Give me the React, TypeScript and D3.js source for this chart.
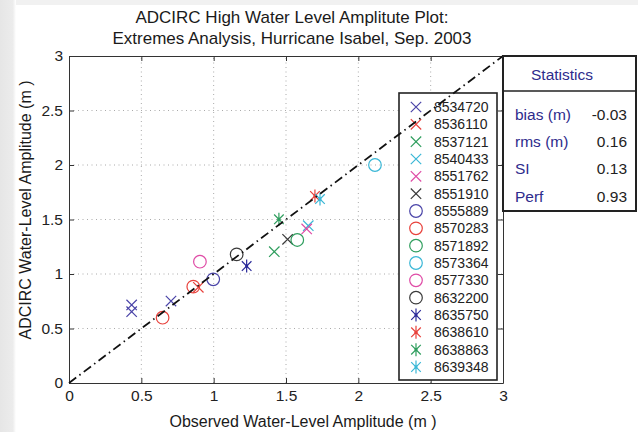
import { useRef, useEffect } from 'react'
import * as d3 from 'd3'

// station list shown in the legend
const stations = [
  '8534720', '8536110', '8537121', '8540433', '8551762', '8551910',
  '8555889', '8570283', '8571892', '8573364', '8577330', '8632200',
  '8635750', '8638610', '8638863', '8639348',
]
const stationMarkers = [
  'x', 'x', 'x', 'x', 'x', 'x',
  'o', 'o', 'o', 'o', 'o', 'o',
  '*', '*', '*', '*',
]
const stationColors = [
  '#4a44a8', '#e8413b', '#2f9e5e', '#3ab7d6', '#df4ba6', '#3a3a3a',
  '#4a44a8', '#e8413b', '#2f9e5e', '#3ab7d6', '#df4ba6', '#3a3a3a',
  '#2b2a9a', '#e8413b', '#2f9e5e', '#3ab7d6',
]

// observed vs modelled high water amplitude (m)
const observed = [0.433, 0.433, 0.705, 0.894, 1.419, 1.654, 1.643, 1.511, 0.997, 0.647, 0.859, 1.578, 2.115, 0.905, 1.159, 1.228, 1.70, 1.451, 1.735]
const modelled = [0.716, 0.654, 0.752, 0.878, 1.205, 1.443, 1.413, 1.318, 0.951, 0.599, 0.884, 1.312, 2.0, 1.113, 1.18, 1.073, 1.716, 1.502, 1.688]
const pointStation = [0, 0, 0, 1, 2, 3, 4, 5, 6, 7, 7, 8, 9, 10, 11, 12, 13, 14, 15]

const ticks = [0, 0.5, 1, 1.5, 2, 2.5, 3]
const tickLabels = ['0', '0.5', '1', '1.5', '2', '2.5', '3']

const statNames = ['bias (m)', 'rms (m)', 'SI', 'Perf']
const statValues = ['-0.03', '0.16', '0.13', '0.93']

const FONT = 'Liberation Sans, Arial, sans-serif'

function drawMarker(g: any, kind: string, cx: number, cy: number, color: string) {
  if (kind === 'o') {
    g.append('circle').attr('cx', cx).attr('cy', cy).attr('r', 6.3)
      .attr('fill', 'none').attr('stroke', color).attr('stroke-width', 1.2)
  } else if (kind === 'x') {
    const s = 5.2
    g.append('path')
      .attr('d', `M${cx - s},${cy - s}L${cx + s},${cy + s}M${cx - s},${cy + s}L${cx + s},${cy - s}`)
      .attr('stroke', color).attr('stroke-width', 1.2).attr('fill', 'none')
  } else {
    const s = 6.5, d = 4.8
    g.append('path')
      .attr('d', `M${cx},${cy - s}L${cx},${cy + s}M${cx - d},${cy - d}L${cx + d},${cy + d}M${cx - d},${cy + d}L${cx + d},${cy - d}`)
      .attr('stroke', color).attr('stroke-width', 1.2).attr('fill', 'none')
    g.append('circle').attr('cx', cx).attr('cy', cy).attr('r', 1.6).attr('fill', color)
  }
}

const ScatterChart = () => {
  const svgRef = useRef<SVGSVGElement>(null)

  useEffect(() => {
    const svg = d3.select(svgRef.current)
    svg.selectAll('*').remove()

    const width = 638
    const height = 432

    // page frame shadow
    const defs = svg.append('defs')
    const grad = defs.append('linearGradient').attr('id', 'lshade')
    grad.append('stop').attr('offset', '0%').attr('stop-color', '#e6e6e6')
    grad.append('stop').attr('offset', '80%').attr('stop-color', '#ececec')
    grad.append('stop').attr('offset', '100%').attr('stop-color', '#ffffff')
    svg.append('rect').attr('width', width).attr('height', height).attr('fill', '#fff')
    svg.append('rect').attr('width', 16).attr('height', height).attr('fill', 'url(#lshade)')
    svg.append('rect').attr('x', 16).attr('width', width - 16).attr('height', 5).attr('fill', '#f1f1f1')

    const x = d3.scaleLinear().domain([0, 3]).range([69, 503])
    const y = d3.scaleLinear().domain([0, 3]).range([383, 56])

    // grid
    const grid = svg.append('g').attr('stroke', '#aaa').attr('stroke-width', 1).attr('stroke-dasharray', '1,3.5')
    ticks.slice(1, -1).forEach((t) => {
      grid.append('line').attr('x1', x(t)).attr('x2', x(t)).attr('y1', y(0)).attr('y2', y(3))
      grid.append('line').attr('x1', x(0)).attr('x2', x(3)).attr('y1', y(t)).attr('y2', y(t))
    })

    // axes (box with inward ticks)
    const xAxis = d3.axisBottom(x).tickValues(ticks).tickSizeInner(-5).tickSizeOuter(0).tickPadding(7)
      .tickFormat((_d, i) => tickLabels[i])
    const yAxis = d3.axisLeft(y).tickValues(ticks).tickSizeInner(-5).tickSizeOuter(0).tickPadding(6)
      .tickFormat((_d, i) => tickLabels[i])
    const xg = svg.append('g').attr('transform', `translate(0,${y(0)})`).call(xAxis)
    const yg = svg.append('g').attr('transform', `translate(${x(0)},0)`).call(yAxis)
    const xTop = d3.axisTop(x).tickValues(ticks).tickSizeInner(-5).tickSizeOuter(0).tickFormat(() => '')
    const yRight = d3.axisRight(y).tickValues(ticks).tickSizeInner(-5).tickSizeOuter(0).tickFormat(() => '')
    svg.append('g').attr('transform', `translate(0,${y(3)})`).call(xTop)
    svg.append('g').attr('transform', `translate(${x(3)},0)`).call(yRight)
    svg.selectAll('.domain, .tick line').attr('stroke', '#333').attr('stroke-width', 1)
    xg.selectAll('text').attr('font-size', 15.5).attr('font-family', FONT).attr('fill', '#222')
    yg.selectAll('text').attr('font-size', 15.5).attr('font-family', FONT).attr('fill', '#222')

    // points
    const pts = svg.append('g')
    observed.forEach((o, i) => {
      const s = pointStation[i]
      drawMarker(pts, stationMarkers[s], x(o), y(modelled[i]), stationColors[s])
    })

    // legend
    const lg = svg.append('g')
    lg.append('rect').attr('x', 399).attr('y', 93).attr('width', 98).attr('height', 287)
      .attr('fill', '#fff').attr('stroke', '#222').attr('stroke-width', 1.6)
    const rowY = d3.scaleLinear().domain([0, stations.length - 1]).range([107, 367])
    stations.forEach((st, i) => {
      drawMarker(lg, stationMarkers[i], 416, rowY(i), stationColors[i])
      lg.append('text').attr('x', 434).attr('y', rowY(i)).attr('dy', '0.36em')
        .attr('font-size', 14).attr('font-family', FONT).attr('fill', '#222').text(st)
    })

    // 1:1 line
    svg.append('line')
      .attr('x1', x(0)).attr('y1', y(0)).attr('x2', x(3)).attr('y2', y(3))
      .attr('stroke', '#111').attr('stroke-width', 1.8).attr('stroke-dasharray', '9,4,1.5,4')

    // statistics box
    const sb = svg.append('g')
    sb.append('rect').attr('x', 503).attr('y', 56).attr('width', 133).attr('height', 155)
      .attr('fill', '#fff').attr('stroke', '#222').attr('stroke-width', 2)
    sb.append('line').attr('x1', 503).attr('x2', 636).attr('y1', 91).attr('y2', 91)
      .attr('stroke', '#222').attr('stroke-width', 1.5)
    sb.append('text').attr('x', 562).attr('y', 74).attr('dy', '0.36em').attr('text-anchor', 'middle')
      .attr('font-size', 15.5).attr('font-family', FONT).attr('fill', '#2e2b8c').text('Statistics')
    const statY = d3.scaleLinear().domain([0, statNames.length - 1]).range([114, 196])
    statNames.forEach((n, i) => {
      sb.append('text').attr('x', 515).attr('y', statY(i)).attr('dy', '0.36em')
        .attr('font-size', 15.5).attr('font-family', FONT).attr('fill', '#2e2b8c').text(n)
      sb.append('text').attr('x', 627).attr('y', statY(i)).attr('dy', '0.36em').attr('text-anchor', 'end')
        .attr('font-size', 15.5).attr('font-family', FONT).attr('fill', '#222').text(statValues[i])
    })

    // titles
    const title = svg.append('g').attr('font-family', FONT).attr('fill', '#1a1a1a').attr('text-anchor', 'middle')
    title.append('text').attr('x', 292).attr('y', 23).attr('font-size', 17).text('ADCIRC High Water Level Amplitute Plot:')
    title.append('text').attr('x', 292).attr('y', 44).attr('font-size', 17).text('Extremes Analysis, Hurricane Isabel, Sep. 2003')
    title.append('text').attr('x', 303).attr('y', 427).attr('font-size', 16).text('Observed Water-Level Amplitude (m )')
    title.append('text').attr('transform', 'translate(31,210) rotate(-90)').attr('font-size', 16)
      .text('ADCIRC Water-Level Amplitude (m )')
  }, [])

  return (
    <div style={{ position: 'absolute', left: 0, top: 0 }}>
      <svg ref={svgRef} width={638} height={432} style={{ display: 'block' }}></svg>
    </div>
  )
}

export default ScatterChart
